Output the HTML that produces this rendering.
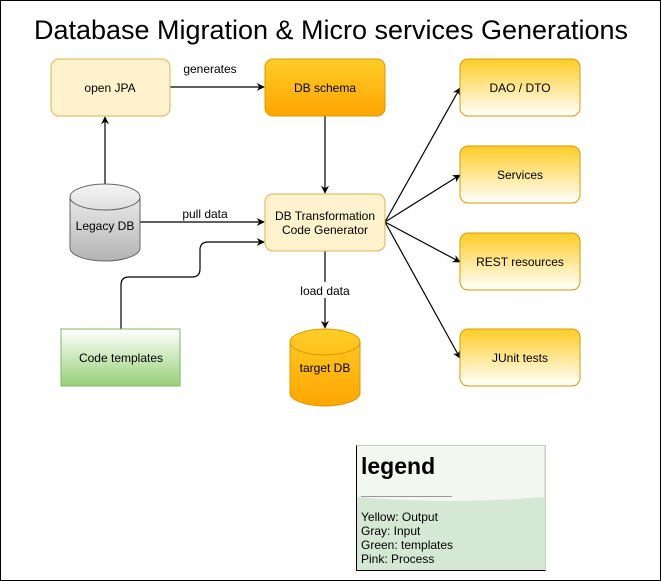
<!DOCTYPE html>
<html><head><style>body{margin:0;background:#fff}svg{display:block;font-family:"Liberation Sans",sans-serif}</style></head><body>
<svg width="661" height="581" viewBox="0 0 661 581" xmlns="http://www.w3.org/2000/svg">
<defs>
<linearGradient id="or" x1="0" y1="0" x2="0" y2="1"><stop offset="0" stop-color="#ffcd28"/><stop offset="1" stop-color="#ffa500"/></linearGradient>
<linearGradient id="yw" x1="0" y1="0" x2="0" y2="1"><stop offset="0" stop-color="#ffcd28"/><stop offset="1" stop-color="#ffffff"/></linearGradient>
<linearGradient id="gr" x1="0" y1="0" x2="0" y2="1"><stop offset="0" stop-color="#f5f5f5"/><stop offset="1" stop-color="#b3b3b3"/></linearGradient>
<linearGradient id="gn" x1="0" y1="0" x2="0" y2="1"><stop offset="0" stop-color="#ffffff"/><stop offset="1" stop-color="#97d077"/></linearGradient>
<marker id="a" viewBox="0 0 10 10" refX="9" refY="5" markerWidth="8" markerHeight="8" orient="auto" markerUnits="userSpaceOnUse"><path d="M0,0 L10,5 L0,10 L3,5 Z" fill="#000"/></marker>
</defs>
<rect x="0.5" y="0.5" width="660" height="580" fill="#fff" stroke="#000"/>
<text x="331" y="39" font-size="27" text-anchor="middle" textLength="594" lengthAdjust="spacingAndGlyphs">Database Migration &amp; Micro services Generations</text>
<g stroke="#000" stroke-width="1.2" fill="none">
<path d="M170,87 H264" marker-end="url(#a)"/>
<path d="M325,116 V193" marker-end="url(#a)"/>
<path d="M105,184 V117" marker-end="url(#a)"/>
<path d="M140,222 H264" marker-end="url(#a)"/>
<path d="M121,329 V285 Q121,277 129,277 H192 Q200,277 200,269 V250 Q200,242 208,242 H264" marker-end="url(#a)"/>
<path d="M325,251 V328" marker-end="url(#a)"/>
<path d="M385,222 L460,88" marker-end="url(#a)"/>
<path d="M385,222 L460,175" marker-end="url(#a)"/>
<path d="M385,222 L460,262" marker-end="url(#a)"/>
<path d="M385,222 L460,358" marker-end="url(#a)"/>
</g>
<g font-size="12" text-anchor="middle">
<text x="210" y="73">generates</text>
<text x="205" y="218">pull data</text>
<rect x="296" y="282" width="58" height="16" fill="#fff"/>
<text x="325" y="295">load data</text>
</g>
<g font-size="12" text-anchor="middle">
<rect x="51" y="59" width="119" height="57" rx="8" fill="#fff2cc" stroke="#d6b656"/>
<text x="110" y="92">open JPA</text>
<rect x="265" y="59" width="120" height="57" rx="8" fill="url(#or)" stroke="#d79b00"/>
<text x="325" y="92">DB schema</text>
<rect x="265" y="194" width="120" height="57" rx="8" fill="#fff2cc" stroke="#d6b656"/>
<text x="325" y="220">DB Transformation</text>
<text x="325" y="234">Code Generator</text>
<rect x="460" y="59" width="120" height="57" rx="8" fill="url(#yw)" stroke="#d79b00"/>
<text x="520" y="92">DAO / DTO</text>
<rect x="460" y="146" width="120" height="57" rx="8" fill="url(#yw)" stroke="#d79b00"/>
<text x="520" y="179">Services</text>
<rect x="460" y="233" width="120" height="57" rx="8" fill="url(#yw)" stroke="#d79b00"/>
<text x="520" y="266">REST resources</text>
<rect x="460" y="329" width="120" height="57" rx="8" fill="url(#yw)" stroke="#d79b00"/>
<text x="520" y="362">JUnit tests</text>
<rect x="61" y="329" width="119" height="57" fill="url(#gn)" stroke="#82b366"/>
<text x="121" y="362">Code templates</text>
<path d="M70,197 A35,13 0 0 1 140,197 V248 A35,13 0 0 1 70,248 Z" fill="url(#gr)" stroke="#666"/>
<path d="M70,197 A35,13 0 0 0 140,197" fill="none" stroke="#666"/>
<text x="105" y="230">Legacy DB</text>
<path d="M290,342 A35,13 0 0 1 360,342 V393 A35,13 0 0 1 290,393 Z" fill="url(#or)" stroke="#d79b00"/>
<path d="M290,342 A35,13 0 0 0 360,342" fill="none" stroke="#d79b00"/>
<text x="325" y="372">target DB</text>
</g>
<rect x="356" y="445" width="189" height="125" fill="#d5e8d4"/>
<path d="M357,446 H544 V497 Q450,505 357,497 Z" fill="#f2f8f0"/>
<path d="M356.5,445.5 H545.5 V570.5" fill="none" stroke="#ccc"/>
<path d="M356.5,445.5 V570.5 H545.5" fill="none" stroke="#000"/>
<text x="361" y="474" font-size="23" font-weight="bold">legend</text>
<path d="M361,496.5 H452" stroke="#999"/>
<g font-size="12"><text x="361" y="521">Yellow: Output</text><text x="361" y="535">Gray: Input</text><text x="361" y="549">Green: templates</text><text x="361" y="563">Pink: Process</text></g>
</svg>
</body></html>
